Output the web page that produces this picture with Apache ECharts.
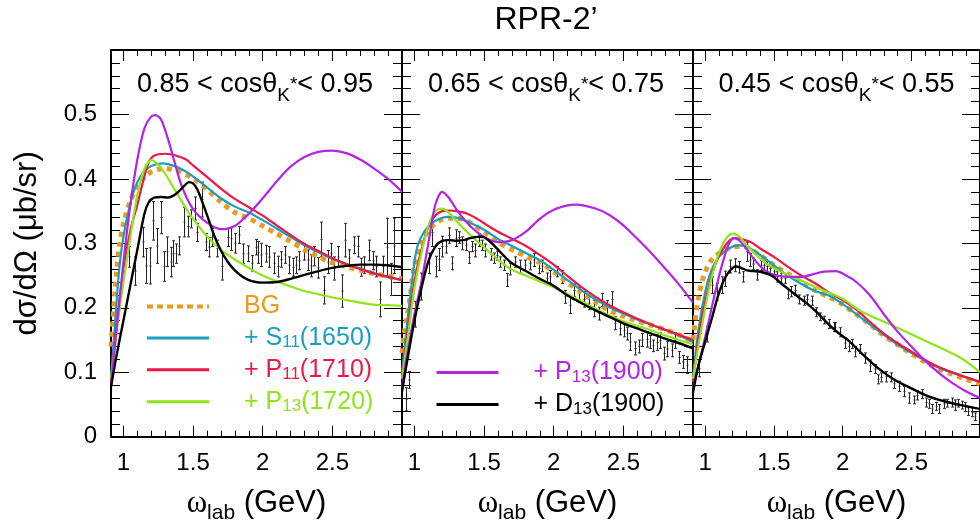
<!DOCTYPE html>
<html>
<head>
<meta charset="utf-8">
<title>RPR-2'</title>
<script src="https://cdn.jsdelivr.net/npm/echarts@6/dist/echarts.min.js"></script>
<style>
  html, body { margin: 0; padding: 0; background: #fff; }
  #chart { width: 980px; height: 532px; }
</style>
</head>
<body>
<div id="chart"></div>
<script>
// axes
const xMin = 0.911;
const xMax = 3.0;
const xMajor = [1, 1.5, 2, 2.5];
const xMinor = [1.1, 1.2, 1.3, 1.4, 1.6, 1.7, 1.8, 1.9, 2.1, 2.2, 2.3, 2.4, 2.6, 2.7, 2.8, 2.9];
const yMin = 0;
const yMax = 0.6;
const yStep = 0.1;

const panelBins = [['0.85', '0.95'], ['0.65', '0.75'], ['0.45', '0.55']];
const seriesNames = ['BG', '+ S11(1650)', '+ P11(1710)', '+ P13(1720)', '+ P13(1900)', '+ D13(1900)'];

// ---- panel 1: 0.85 < cos < 0.95 ----
const bg1 = [[0.911,0.14],[0.94,0.225],[0.97,0.295],[1.0,0.33],[1.05,0.366],[1.1,0.389],[1.15,0.403],[1.2,0.411],[1.25,0.415],[1.3,0.416],[1.35,0.415],[1.4,0.412],[1.5,0.401],[1.6,0.384],[1.7,0.364],[1.8,0.348],[1.9,0.339],[2.0,0.327],[2.1,0.315],[2.2,0.303],[2.3,0.29],[2.4,0.279],[2.5,0.27],[2.6,0.264],[2.7,0.258],[2.8,0.253],[2.9,0.249],[3.0,0.245]];
const s11_1 = [[0.911,0.09],[0.94,0.175],[0.97,0.26],[1.0,0.31],[1.05,0.362],[1.1,0.395],[1.15,0.412],[1.2,0.42],[1.28,0.424],[1.35,0.421],[1.42,0.415],[1.5,0.404],[1.6,0.387],[1.7,0.37],[1.8,0.357],[1.9,0.348],[2.0,0.336],[2.1,0.323],[2.2,0.31],[2.3,0.297],[2.4,0.286],[2.5,0.276],[2.6,0.268],[2.7,0.261],[2.8,0.254],[2.9,0.248],[3.0,0.243]];
const p11_1 = [[0.911,0.085],[0.95,0.17],[1.0,0.26],[1.05,0.32],[1.1,0.36],[1.14,0.395],[1.18,0.425],[1.22,0.436],[1.3,0.439],[1.38,0.436],[1.45,0.43],[1.5,0.421],[1.6,0.403],[1.7,0.385],[1.8,0.369],[1.9,0.356],[2.0,0.343],[2.1,0.328],[2.2,0.313],[2.3,0.299],[2.4,0.288],[2.5,0.277],[2.6,0.268],[2.7,0.26],[2.8,0.253],[2.9,0.248],[3.0,0.243]];
const p1720_1 = [[0.911,0.09],[0.95,0.16],[1.0,0.24],[1.05,0.31],[1.1,0.375],[1.15,0.415],[1.2,0.429],[1.25,0.422],[1.3,0.408],[1.35,0.39],[1.4,0.372],[1.45,0.354],[1.5,0.338],[1.6,0.311],[1.7,0.29],[1.8,0.275],[1.9,0.262],[2.0,0.25],[2.1,0.241],[2.2,0.233],[2.3,0.226],[2.4,0.221],[2.5,0.216],[2.6,0.212],[2.7,0.208],[2.8,0.205],[2.9,0.204],[3.0,0.203]];
const p1900_1 = [[0.911,0.08],[0.95,0.165],[1.0,0.27],[1.05,0.36],[1.1,0.43],[1.15,0.478],[1.2,0.497],[1.23,0.499],[1.27,0.492],[1.32,0.462],[1.37,0.424],[1.42,0.388],[1.5,0.353],[1.6,0.332],[1.7,0.322],[1.8,0.327],[1.9,0.346],[2.0,0.37],[2.1,0.396],[2.2,0.419],[2.3,0.434],[2.4,0.442],[2.5,0.444],[2.6,0.44],[2.7,0.43],[2.8,0.416],[2.9,0.4],[3.0,0.38]];
const d13_1 = [[0.911,0.077],[0.95,0.125],[1.0,0.18],[1.05,0.235],[1.1,0.29],[1.15,0.345],[1.18,0.363],[1.22,0.371],[1.27,0.372],[1.32,0.371],[1.36,0.374],[1.4,0.381],[1.44,0.39],[1.47,0.395],[1.5,0.393],[1.53,0.384],[1.57,0.362],[1.61,0.338],[1.65,0.313],[1.7,0.289],[1.75,0.271],[1.8,0.258],[1.85,0.249],[1.9,0.243],[1.95,0.24],[2.0,0.239],[2.1,0.24],[2.2,0.245],[2.3,0.251],[2.4,0.257],[2.5,0.262],[2.6,0.265],[2.7,0.267],[2.8,0.267],[2.9,0.266],[3.0,0.263]];
// [omega, dsigma, error]
const pts1 = [[1.046,0.279,0.016],[1.086,0.257,0.022],[1.141,0.302,0.023],[1.165,0.265,0.027],[1.194,0.265,0.028],[1.213,0.335,0.03],[1.244,0.296,0.027],[1.273,0.34,0.025],[1.292,0.264,0.023],[1.32,0.287,0.023],[1.344,0.271,0.023],[1.36,0.284,0.02],[1.38,0.284,0.015],[1.404,0.296,0.014],[1.44,0.333,0.023],[1.464,0.326,0.016],[1.488,0.338,0.014],[1.516,0.354,0.018],[1.535,0.317,0.014],[1.571,0.368,0.027],[1.595,0.302,0.013],[1.619,0.294,0.015],[1.643,0.309,0.014],[1.679,0.292,0.013],[1.715,0.264,0.021],[1.751,0.309,0.014],[1.775,0.307,0.018],[1.804,0.3,0.015],[1.835,0.313,0.013],[1.859,0.284,0.015],[1.895,0.284,0.012],[1.924,0.269,0.012],[1.955,0.294,0.012],[1.968,0.286,0.017],[1.992,0.282,0.018],[2.028,0.284,0.013],[2.052,0.279,0.016],[2.087,0.269,0.016],[2.111,0.264,0.016],[2.135,0.275,0.012],[2.164,0.282,0.013],[2.195,0.266,0.013],[2.219,0.263,0.014],[2.243,0.266,0.013],[2.267,0.273,0.014],[2.302,0.287,0.013],[2.326,0.274,0.016],[2.35,0.265,0.017],[2.375,0.28,0.015],[2.398,0.262,0.016],[2.422,0.306,0.027],[2.446,0.227,0.021],[2.47,0.271,0.018],[2.494,0.284,0.016],[2.518,0.261,0.018],[2.541,0.279,0.016],[2.57,0.226,0.025],[2.594,0.305,0.026],[2.625,0.277,0.013],[2.661,0.297,0.013],[2.685,0.295,0.016],[2.709,0.263,0.014],[2.733,0.266,0.013],[2.768,0.289,0.016],[2.792,0.273,0.014],[2.816,0.264,0.016],[2.847,0.213,0.027],[2.864,0.264,0.016],[2.895,0.294,0.045],[2.924,0.244,0.025],[2.943,0.296,0.043]];

// ---- panel 2: 0.65 < cos < 0.75 ----
const bg2 = [[0.911,0.13],[0.93,0.165],[0.965,0.21],[1.0,0.265],[1.05,0.3],[1.1,0.32],[1.15,0.331],[1.2,0.337],[1.25,0.339],[1.3,0.339],[1.35,0.337],[1.4,0.332],[1.5,0.318],[1.6,0.302],[1.7,0.29],[1.8,0.28],[1.9,0.27],[2.0,0.256],[2.1,0.239],[2.2,0.224],[2.3,0.209],[2.4,0.196],[2.5,0.187],[2.6,0.18],[2.7,0.173],[2.8,0.166],[2.9,0.158],[3.0,0.148]];
const s11_2 = [[0.911,0.1],[0.95,0.18],[1.0,0.27],[1.024,0.297],[1.07,0.318],[1.12,0.33],[1.18,0.338],[1.24,0.341],[1.3,0.34],[1.38,0.334],[1.5,0.321],[1.6,0.307],[1.7,0.296],[1.8,0.285],[1.9,0.274],[2.0,0.259],[2.1,0.243],[2.2,0.227],[2.3,0.213],[2.4,0.201],[2.5,0.191],[2.6,0.182],[2.7,0.174],[2.8,0.166],[2.9,0.157],[3.0,0.147]];
const p11_2 = [[0.911,0.09],[0.95,0.16],[1.0,0.24],[1.05,0.29],[1.1,0.325],[1.15,0.343],[1.2,0.35],[1.25,0.351],[1.3,0.35],[1.38,0.346],[1.45,0.338],[1.53,0.327],[1.6,0.318],[1.7,0.307],[1.8,0.296],[1.9,0.282],[2.0,0.267],[2.1,0.249],[2.2,0.232],[2.3,0.217],[2.4,0.204],[2.5,0.193],[2.6,0.183],[2.7,0.174],[2.8,0.166],[2.9,0.158],[3.0,0.15]];
const p1720_2 = [[0.911,0.09],[0.95,0.15],[1.0,0.23],[1.05,0.285],[1.1,0.327],[1.15,0.35],[1.2,0.354],[1.25,0.347],[1.3,0.335],[1.35,0.324],[1.4,0.313],[1.5,0.294],[1.6,0.275],[1.7,0.259],[1.8,0.25],[1.9,0.241],[2.0,0.232],[2.1,0.221],[2.2,0.21],[2.3,0.199],[2.4,0.188],[2.5,0.179],[2.6,0.172],[2.7,0.165],[2.8,0.157],[2.9,0.15],[3.0,0.143]];
const p1900_2 = [[0.911,0.077],[0.95,0.13],[1.0,0.19],[1.05,0.24],[1.1,0.3],[1.15,0.36],[1.2,0.38],[1.25,0.37],[1.31,0.35],[1.4,0.327],[1.5,0.31],[1.6,0.302],[1.7,0.305],[1.8,0.318],[1.9,0.338],[2.0,0.352],[2.1,0.359],[2.16,0.36],[2.3,0.354],[2.4,0.344],[2.5,0.328],[2.6,0.307],[2.7,0.285],[2.8,0.261],[2.9,0.236],[3.0,0.208]];
const d13_2 = [[0.911,0.07],[0.95,0.12],[1.0,0.18],[1.05,0.23],[1.1,0.272],[1.15,0.295],[1.2,0.304],[1.25,0.305],[1.3,0.304],[1.35,0.305],[1.4,0.308],[1.45,0.31],[1.49,0.31],[1.53,0.305],[1.58,0.295],[1.65,0.279],[1.7,0.269],[1.8,0.257],[1.9,0.245],[2.0,0.234],[2.1,0.219],[2.2,0.207],[2.3,0.196],[2.4,0.186],[2.5,0.176],[2.6,0.168],[2.7,0.16],[2.8,0.152],[2.9,0.145],[3.0,0.137]];
const pts2 = [[0.94,0.058,0.018],[0.962,0.088,0.013],[1.01,0.19,0.02],[1.048,0.233,0.021],[1.108,0.269,0.016],[1.132,0.317,0.022],[1.156,0.264,0.016],[1.179,0.275,0.017],[1.203,0.295,0.016],[1.227,0.295,0.01],[1.251,0.312,0.012],[1.275,0.269,0.01],[1.299,0.308,0.013],[1.323,0.309,0.009],[1.347,0.3,0.01],[1.371,0.297,0.008],[1.394,0.278,0.009],[1.418,0.295,0.008],[1.442,0.289,0.01],[1.466,0.304,0.009],[1.49,0.297,0.008],[1.514,0.289,0.01],[1.55,0.283,0.009],[1.573,0.277,0.008],[1.598,0.281,0.007],[1.621,0.271,0.008],[1.645,0.266,0.008],[1.669,0.243,0.01],[1.693,0.26,0.009],[1.729,0.271,0.008],[1.765,0.264,0.01],[1.801,0.266,0.008],[1.837,0.269,0.01],[1.86,0.274,0.01],[1.896,0.261,0.008],[1.92,0.265,0.009],[1.956,0.246,0.008],[1.98,0.248,0.01],[2.028,0.256,0.008],[2.064,0.248,0.01],[2.087,0.217,0.01],[2.123,0.204,0.013],[2.147,0.227,0.01],[2.183,0.222,0.01],[2.219,0.213,0.012],[2.254,0.207,0.01],[2.29,0.199,0.013],[2.326,0.191,0.01],[2.35,0.212,0.01],[2.385,0.2,0.011],[2.422,0.213,0.012],[2.446,0.176,0.01],[2.482,0.168,0.01],[2.505,0.165,0.01],[2.53,0.16,0.01],[2.553,0.147,0.013],[2.589,0.137,0.01],[2.613,0.14,0.01],[2.637,0.15,0.01],[2.673,0.151,0.012],[2.697,0.147,0.01],[2.72,0.141,0.009],[2.745,0.146,0.012],[2.768,0.149,0.012],[2.792,0.129,0.01],[2.816,0.136,0.012],[2.852,0.134,0.01],[2.876,0.149,0.012],[2.9,0.123,0.009],[2.935,0.116,0.01],[2.96,0.111,0.013]];

// ---- panel 3: 0.45 < cos < 0.55 ----
const bg3 = [[0.911,0.15],[0.947,0.212],[0.995,0.253],[1.055,0.277],[1.14,0.289],[1.21,0.295],[1.28,0.295],[1.38,0.284],[1.5,0.266],[1.6,0.253],[1.7,0.24],[1.8,0.227],[1.9,0.217],[2.0,0.205],[2.1,0.19],[2.2,0.174],[2.3,0.157],[2.4,0.143],[2.5,0.129],[2.6,0.116],[2.7,0.105],[2.8,0.097],[2.9,0.089],[3.0,0.082]];
const s11_3 = [[0.911,0.09],[0.95,0.165],[1.0,0.225],[1.045,0.258],[1.1,0.279],[1.17,0.292],[1.24,0.297],[1.3,0.295],[1.38,0.285],[1.5,0.266],[1.6,0.25],[1.7,0.237],[1.8,0.226],[1.9,0.219],[2.0,0.206],[2.1,0.19],[2.2,0.174],[2.3,0.158],[2.4,0.143],[2.5,0.13],[2.6,0.118],[2.7,0.107],[2.8,0.099],[2.9,0.092],[3.0,0.085]];
const p11_3 = [[0.911,0.085],[0.95,0.15],[1.0,0.21],[1.067,0.264],[1.14,0.295],[1.21,0.308],[1.33,0.302],[1.4,0.292],[1.5,0.279],[1.6,0.264],[1.7,0.25],[1.8,0.238],[1.9,0.224],[2.0,0.212],[2.1,0.197],[2.2,0.178],[2.3,0.16],[2.4,0.145],[2.5,0.132],[2.6,0.119],[2.7,0.108],[2.8,0.1],[2.9,0.092],[3.0,0.085]];
const p1720_3 = [[0.911,0.09],[0.95,0.14],[1.0,0.2],[1.05,0.25],[1.1,0.285],[1.15,0.307],[1.2,0.315],[1.25,0.31],[1.31,0.295],[1.43,0.271],[1.55,0.256],[1.69,0.243],[1.86,0.227],[2.0,0.214],[2.14,0.194],[2.38,0.171],[2.62,0.147],[2.86,0.122],[3.0,0.1]];
const p1900_3 = [[0.911,0.075],[0.95,0.11],[1.0,0.155],[1.043,0.196],[1.09,0.24],[1.139,0.279],[1.175,0.3],[1.21,0.308],[1.25,0.304],[1.306,0.29],[1.35,0.277],[1.402,0.264],[1.45,0.256],[1.5,0.251],[1.6,0.248],[1.7,0.248],[1.8,0.253],[1.86,0.256],[1.95,0.257],[2.02,0.251],[2.1,0.24],[2.2,0.219],[2.3,0.19],[2.4,0.163],[2.5,0.14],[2.6,0.118],[2.7,0.099],[2.8,0.083],[2.9,0.07],[3.0,0.06]];
const d13_3 = [[0.911,0.068],[0.95,0.11],[1.0,0.148],[1.05,0.185],[1.091,0.217],[1.13,0.24],[1.163,0.253],[1.2,0.262],[1.222,0.264],[1.26,0.262],[1.306,0.258],[1.35,0.257],[1.402,0.256],[1.473,0.251],[1.52,0.244],[1.569,0.235],[1.63,0.225],[1.688,0.215],[1.75,0.205],[1.808,0.194],[1.9,0.174],[1.975,0.16],[2.05,0.148],[2.14,0.129],[2.26,0.106],[2.38,0.088],[2.5,0.075],[2.62,0.063],[2.74,0.055],[2.86,0.049],[2.98,0.044],[3.0,0.043]];
const pts3 = [[0.959,0.106,0.013],[1.019,0.159,0.012],[1.055,0.235,0.013],[1.091,0.225,0.013],[1.127,0.235,0.013],[1.151,0.245,0.012],[1.186,0.264,0.01],[1.222,0.266,0.01],[1.246,0.263,0.009],[1.277,0.248,0.008],[1.306,0.287,0.015],[1.33,0.274,0.01],[1.354,0.268,0.009],[1.378,0.251,0.008],[1.406,0.266,0.008],[1.43,0.266,0.008],[1.454,0.264,0.008],[1.478,0.261,0.008],[1.502,0.256,0.008],[1.526,0.248,0.008],[1.557,0.246,0.008],[1.581,0.245,0.007],[1.605,0.221,0.007],[1.628,0.225,0.008],[1.66,0.227,0.008],[1.688,0.213,0.007],[1.724,0.211,0.007],[1.748,0.213,0.007],[1.779,0.211,0.007],[1.808,0.193,0.007],[1.836,0.186,0.006],[1.867,0.181,0.006],[1.903,0.175,0.007],[1.939,0.17,0.007],[1.951,0.17,0.007],[1.987,0.162,0.007],[2.023,0.145,0.008],[2.047,0.14,0.008],[2.07,0.144,0.007],[2.094,0.132,0.008],[2.13,0.136,0.007],[2.166,0.122,0.008],[2.202,0.11,0.009],[2.238,0.105,0.007],[2.262,0.089,0.007],[2.285,0.092,0.007],[2.321,0.093,0.008],[2.357,0.092,0.007],[2.381,0.082,0.007],[2.417,0.078,0.008],[2.453,0.07,0.008],[2.489,0.06,0.008],[2.525,0.057,0.006],[2.548,0.064,0.007],[2.584,0.066,0.007],[2.608,0.053,0.007],[2.632,0.051,0.007],[2.656,0.043,0.007],[2.68,0.047,0.006],[2.704,0.043,0.007],[2.74,0.051,0.007],[2.763,0.052,0.006],[2.799,0.053,0.007],[2.823,0.049,0.008],[2.847,0.052,0.006],[2.871,0.049,0.006],[2.895,0.046,0.007],[2.919,0.039,0.006],[2.943,0.038,0.007],[2.966,0.031,0.006]];

const curves = [
  [bg1, s11_1, p11_1, p1720_1, p1900_1, d13_1],
  [bg2, s11_2, p11_2, p1720_2, p1900_2, d13_2],
  [bg3, s11_3, p11_3, p1720_3, p1900_3, d13_3]
];
const points = [pts1, pts2, pts3];

const FONT = '"Liberation Sans", Arial, Helvetica, sans-serif';
const colors = {
  lines: ['#EA9A1C', '#1A9EBF', '#EE1846', '#8FE51A', '#B324E6', '#000000'],
  data: '#262626',
  frame: '#000'
};

const legendRich = {
  'BG': '{t|BG}',
  '+ S11(1650)': '{t|+ S}{s|11}{t|(1650)}',
  '+ P11(1710)': '{t|+ P}{s|11}{t|(1710)}',
  '+ P13(1720)': '{t|+ P}{s|13}{t|(1720)}',
  '+ P13(1900)': '{t|+ P}{s|13}{t|(1900)}',
  '+ D13(1900)': '{t|+ D}{s|13}{t|(1900)}'
};

const GRID_LEFT = 111, GRID_TOP = 50, GRID_W = 291, GRID_H = 386.7;
const crisp = a => Math.round(a - 0.5) + 0.5;

function renderErrorBar(params, api) {
  const x = api.value(0), y = api.value(1), e = api.value(2);
  const hi = api.coord([x, y + e]);
  const lo = api.coord([x, y - e]);
  const c = api.coord([x, y]);
  const cx = crisp(c[0]);
  const st = { stroke: colors.data, lineWidth: 1 };
  return {
    type: 'group',
    children: [
      { type: 'line', shape: { x1: cx, y1: hi[1], x2: cx, y2: lo[1] }, style: st },
      { type: 'line', shape: { x1: cx - 1.5, y1: hi[1], x2: cx + 1.5, y2: hi[1] }, style: st },
      { type: 'line', shape: { x1: cx - 1.5, y1: lo[1], x2: cx + 1.5, y2: lo[1] }, style: st },
      { type: 'rect', shape: { x: cx - 1, y: c[1] - 0.5, width: 2, height: 1 }, style: { fill: colors.data } }
    ]
  };
}

const frameLine = { show: true, onZero: false, lineStyle: { color: colors.frame, width: 2 } };
const tickStyle = { color: colors.frame, width: 1 };

const grids = [], xAxes = [], yAxes = [], series = [];

for (let p = 0; p < 3; p++) {
  grids.push({ left: GRID_LEFT + GRID_W * p, top: GRID_TOP, width: GRID_W, height: GRID_H });

  // frame: bottom/top x axes (major + minor ticks), left/right y axes
  const xb = { type: 'value', gridIndex: p, min: xMin, max: xMax, splitLine: { show: false } };
  xAxes.push({
    ...xb, position: 'bottom', axisLine: frameLine,
    axisTick: { show: true, inside: true, length: 11, customValues: xMajor, lineStyle: tickStyle },
    axisLabel: { customValues: xMajor, fontSize: 24, margin: 15, color: '#000', fontFamily: FONT },
    name: '{w|ω}{l|lab}{g| (GeV)}', nameLocation: 'middle', nameGap: 47,
    nameTextStyle: {
      rich: {
        w: { fontSize: 31, lineHeight: 40, verticalAlign: 'middle', fontFamily: '"Liberation Serif", serif', color: '#000' },
        l: { fontSize: 21, lineHeight: 16, verticalAlign: 'bottom', fontFamily: FONT, color: '#000' },
        g: { fontSize: 31, lineHeight: 40, verticalAlign: 'middle', fontFamily: FONT, color: '#000' }
      }
    }
  });
  xAxes.push({ ...xb, position: 'bottom', axisLine: { show: false, onZero: false },
    axisTick: { show: true, inside: true, length: 6, customValues: xMinor, lineStyle: tickStyle }, axisLabel: { show: false } });
  xAxes.push({ ...xb, position: 'top', axisLine: frameLine,
    axisTick: { show: true, inside: true, length: 11, customValues: xMajor, lineStyle: tickStyle }, axisLabel: { show: false } });
  xAxes.push({ ...xb, position: 'top', axisLine: { show: false, onZero: false },
    axisTick: { show: true, inside: true, length: 6, customValues: xMinor, lineStyle: tickStyle }, axisLabel: { show: false } });

  const yb = {
    type: 'value', gridIndex: p, min: yMin, max: yMax, interval: yStep,
    axisLine: frameLine, splitLine: { show: false },
    axisTick: { show: true, inside: true, length: 18, lineStyle: tickStyle },
    minorTick: { show: true, splitNumber: 5, length: 9, lineStyle: tickStyle }
  };
  yAxes.push({
    ...yb, position: 'left',
    axisLabel: { show: p === 0, margin: 14, fontSize: 24, color: '#000', fontFamily: FONT, showMaxLabel: false },
    name: p === 0 ? 'dσ/dΩ (μb/sr)' : '', nameLocation: 'middle', nameGap: 68,
    nameTextStyle: { fontSize: 31, lineHeight: 31, color: '#000', fontFamily: FONT }
  });
  yAxes.push({ ...yb, position: 'right', axisLabel: { show: false } });

  series.push({
    type: 'custom', name: 'data', xAxisIndex: 4 * p, yAxisIndex: 2 * p,
    data: points[p], encode: { x: 0, y: 1 }, renderItem: renderErrorBar,
    clip: true, silent: true, z: 1
  });
  curves[p].forEach((d, k) => {
    series.push({
      type: 'line', name: seriesNames[k], xAxisIndex: 4 * p, yAxisIndex: 2 * p,
      data: d, smooth: 0.3, symbol: 'none', showSymbol: false, clip: true,
      lineStyle: k === 0
        ? { color: colors.lines[k], width: 5, type: [5, 5] }
        : { color: colors.lines[k], width: k === 5 ? 2.4 : 2.2 },
      itemStyle: { color: colors.lines[k] },
      emphasis: { disabled: true },
      z: 2 + k
    });
  });
}

// legend symbol of a line series is hidden with a transparent fill, leaving only the line sample
const hiddenSymbol = { color: 'rgba(0,0,0,0)', borderColor: 'rgba(0,0,0,0)', borderWidth: 0 };
const legendBase = {
  orient: 'vertical', itemWidth: 62, itemHeight: 14, itemGap: 6.4, padding: 0,
  selectedMode: false,
  formatter: n => legendRich[n],
  itemStyle: hiddenSymbol,
  lineStyle: { width: 3 },
  textStyle: {
    fontFamily: FONT, fontSize: 25, padding: [0, 0, 0, 30],
    rich: {
      t: { fontSize: 25, lineHeight: 26, verticalAlign: 'middle', fontFamily: FONT },
      s: { fontSize: 17, lineHeight: 8, verticalAlign: 'bottom', fontFamily: FONT }
    }
  }
};
const legendItem = k => ({
  name: seriesNames[k],
  textStyle: { color: colors.lines[k] },
  itemStyle: hiddenSymbol,
  lineStyle: k === 0 ? { width: 4, type: [6, 4] } : { width: 3 }
});

const binRich = {
  n: { fontSize: 27, lineHeight: 40, verticalAlign: 'middle', fontWeight: 'normal', fontFamily: FONT, color: '#000' },
  s: { fontSize: 19, lineHeight: 19, verticalAlign: 'bottom', fontWeight: 'normal', fontFamily: FONT, color: '#000' },
  u: { fontSize: 19, lineHeight: 19, verticalAlign: 'middle', fontWeight: 'normal', fontFamily: FONT, color: '#000' }
};
const binCenters = [255, 546, 836.5];

const titles = [{
  text: 'RPR-2’', left: 546, top: 4, textAlign: 'center', padding: 0,
  textStyle: { fontSize: 32, lineHeight: 32, fontWeight: 'normal', color: '#000', fontFamily: FONT }
}];
panelBins.forEach((b, p) => {
  titles.push({
    text: `{n|${b[0]} < cosθ}{s|K}{u|*}{n|< ${b[1]}}`,
    left: binCenters[p], top: 65, textAlign: 'center', padding: 0,
    textStyle: { fontWeight: 'normal', rich: binRich }
  });
});

const option = {
  animation: false,
  title: titles,
  grid: grids,
  xAxis: xAxes,
  yAxis: yAxes,
  legend: [
    { ...legendBase, left: 145, top: 294, data: [0, 1, 2, 3].map(legendItem) },
    { ...legendBase, left: 435, top: 360, data: [4, 5].map(legendItem) }
  ],
  series: series
};

const chart = echarts.init(document.getElementById('chart'), null, { renderer: 'canvas' });
chart.setOption(option);
window.addEventListener('resize', () => chart.resize());
</script>
</body>
</html>
